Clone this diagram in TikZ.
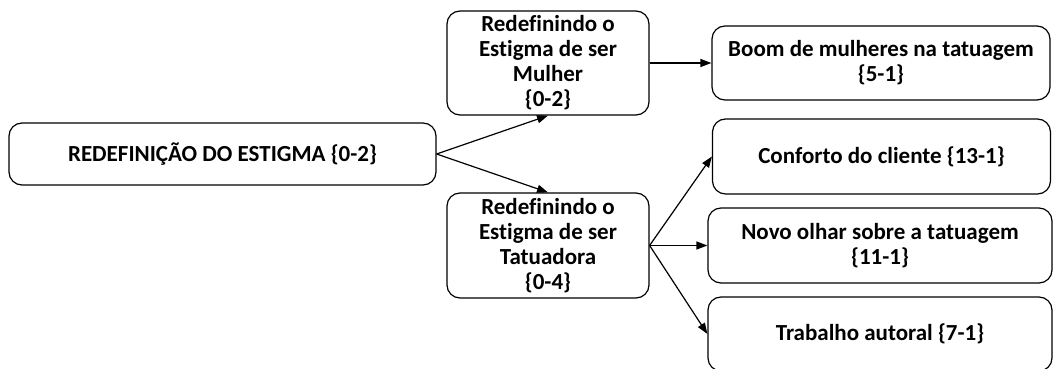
\documentclass[tikz,border=0pt]{standalone}
\usepackage{fontspec}
\setmainfont{Carlito}[Ligatures={NoCommon}]
\usetikzlibrary{arrows.meta}
\begin{document}
\begin{tikzpicture}[x=1pt,y=-1pt,
  box/.style={draw, rounded corners=13pt, line width=1.2pt, font=\bfseries\fontsize{23}{25}\selectfont, align=center, inner sep=0pt},
  arr/.style={-{Triangle[length=11pt,width=8pt]}, line width=1.2pt}]
\useasboundingbox (0,0) rectangle (1053,369);
\clip (0,0) rectangle (1053,369);
\node[box, minimum width=427pt, minimum height=62pt] (root) at (222.5,154) {REDEFINIÇÃO DO ESTIGMA \{0-2\}};
\node[box, minimum width=202pt, minimum height=104pt] (mul) at (548,63) {Redefinindo o\\Estigma de ser\\Mulher\\\{0-2\}};
\node[box, minimum width=202pt, minimum height=105pt] (tat) at (548,245.5) {Redefinindo o\\Estigma de ser\\Tatuadora\\\{0-4\}};
\node[box, minimum width=338pt, minimum height=74pt] (boom) at (881,63) {Boom de mulheres na tatuagem\\\{5-1\}};
\node[box, minimum width=338pt, minimum height=75pt] (conf) at (881.5,156.5) {Conforto do cliente \{13-1\}};
\node[box, minimum width=344pt, minimum height=75pt] (novo) at (880,245.5) {Novo olhar sobre a tatuagem\\\{11-1\}};
\node[box, minimum width=344pt, minimum height=74pt] (trab) at (880,334) {Trabalho autoral \{7-1\}};
\draw[arr] (root.east) -- (mul.south);
\draw[arr] (root.east) -- (tat.north);
\draw[arr] (mul.east) -- (boom.west);
\draw[arr] (tat.east) -- (conf.west);
\draw[arr] (tat.east) -- (novo.west);
\draw[arr] (tat.east) -- (trab.west);
\end{tikzpicture}
\end{document}
